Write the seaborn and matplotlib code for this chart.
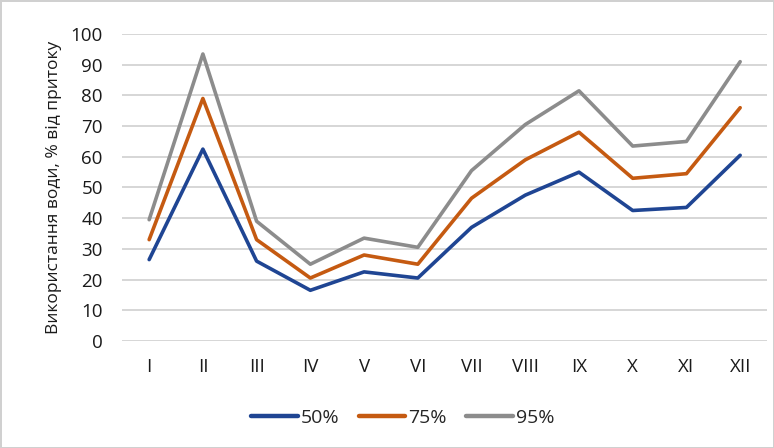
import pandas as pd
import matplotlib
matplotlib.use("Agg")
import matplotlib.pyplot as plt
import seaborn as sns

months = ['I', 'II', 'III', 'IV', 'V', 'VI', 'VII', 'VIII', 'IX', 'X', 'XI', 'XII']
p50 = [26.5, 62.5, 26, 16.5, 22.5, 20.5, 37, 47.5, 55, 42.5, 43.5, 60.5]
p75 = [33, 79, 33, 20.5, 28, 25, 46.5, 59, 68, 53, 54.5, 76]
p95 = [39.5, 93.5, 39, 25, 33.5, 30.5, 55.5, 70.5, 81.5, 63.5, 65, 91]
series = ['50%', '75%', '95%']
colors = ['#1F4593', '#C55A11', '#8C8C8C']

df = pd.DataFrame({
    'month': months * 3,
    'value': p50 + p75 + p95,
    'series': [s for s in series for _ in months],
})

sns.set_style("white")
plt.rcParams['font.family'] = ['Open Sans', 'DejaVu Sans']

fig = plt.figure(figsize=(7.74, 4.48), dpi=100)
fig.patch.set_edgecolor('#D0D0D0')
fig.patch.set_linewidth(2)
ax = fig.add_axes([0.158, 0.239, 0.833, 0.685])

sns.lineplot(data=df, x='month', y='value', hue='series', palette=colors,
             linewidth=2.6, ax=ax, sort=False)

ax.set_ylim(0, 100)
ax.set_xlim(-0.5, 11.5)
ax.set_yticks(range(0, 101, 10))
ax.yaxis.grid(True, color='#D3D3D3', linewidth=1.3)
ax.set_axisbelow(True)
for s in ax.spines.values():
    s.set_visible(False)
ax.tick_params(length=0, labelsize=13.5, colors='#1A1A1A', pad=12)
ax.tick_params(axis='y', pad=14)
ax.set_xlabel('')
ax.set_ylabel('Використання води, % від притоку', fontsize=12.5, color='#1A1A1A', labelpad=6)

handles, labels = ax.get_legend_handles_labels()
for h in handles:
    h.set_linewidth(3.2)
ax.legend_.remove()
fig.legend(handles, labels, loc='center', bbox_to_anchor=(0.52, 0.068), ncol=3,
           frameon=False, fontsize=14, handlelength=2.4, columnspacing=1.0,
           handletextpad=0.15)

fig.savefig('out.png', dpi=100)
